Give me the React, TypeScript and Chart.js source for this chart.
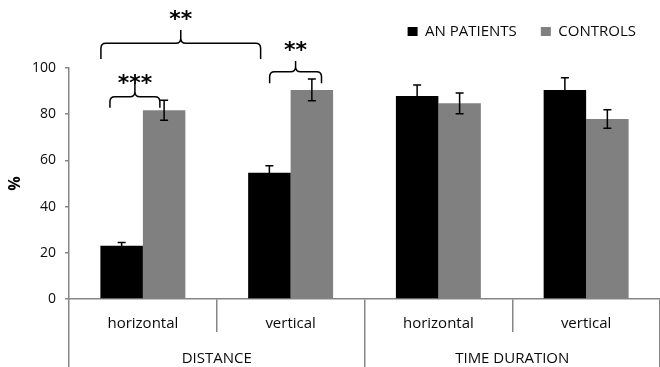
import React, { useEffect, useRef } from "react";
import { Chart, registerables } from "chart.js";

Chart.register(...registerables);

const conditions = ["horizontal", "vertical", "horizontal", "vertical"];
const groups = ["DISTANCE", "TIME DURATION"];
const seriesNames = ["AN PATIENTS", "CONTROLS"];
const patientValues = [23, 54.7, 87.9, 90.5];
const patientErrors = [1.5, 3, 4.7, 5.3];
const controlValues = [81.7, 90.5, 84.7, 77.9];
const controlErrors = [4.3, 4.7, 4.5, 4];
const yTicks = [0, 20, 40, 60, 80, 100];

// significance brackets: category-unit span, value of bar line, ends, spike, label value
const bracketFrom = [-0.284, -0.223, 0.858];
const bracketTo = [0.797, 0.115, 1.209];
const bracketLine = [110.7, 87.6, 98.4];
const bracketEnds = [103.9, 82.8, 93.4];
const bracketSpike = [116.5, 93.4, 103.0];
const bracketLabelAt = [122.9, 95.2, 109.2];
const bracketLabels = ["**", "***", "**"];

const FONT = "'Open Sans', sans-serif";
const AXIS_GRAY = "#858585";
const TEXT = "#0a0a0a";

export default function App() {
  const ref = useRef<HTMLCanvasElement | null>(null);

  useEffect(() => {
    document.body.style.margin = "0";
    const canvas = ref.current;
    if (!canvas) return;

    const errorBars = {
      id: "errorBars",
      afterDatasetsDraw(chart: any) {
        const ctx = chart.ctx;
        const y = chart.scales.y;
        const errs = [patientErrors, controlErrors];
        const vals = [patientValues, controlValues];
        ctx.save();
        ctx.strokeStyle = "#000";
        ctx.lineWidth = 1.5;
        chart.data.datasets.forEach((_d: any, i: number) => {
          const meta = chart.getDatasetMeta(i);
          meta.data.forEach((el: any, j: number) => {
            const top = y.getPixelForValue(vals[i][j] + errs[i][j]);
            const bot = y.getPixelForValue(vals[i][j] - errs[i][j]);
            const x = el.x;
            ctx.beginPath();
            ctx.moveTo(x, top);
            ctx.lineTo(x, bot);
            ctx.moveTo(x - 4, top);
            ctx.lineTo(x + 4, top);
            ctx.moveTo(x - 4, bot);
            ctx.lineTo(x + 4, bot);
            ctx.stroke();
          });
        });
        ctx.restore();
      },
    };

    const brackets = {
      id: "brackets",
      afterDraw(chart: any) {
        const ctx = chart.ctx;
        const xs = chart.scales.x;
        const ys = chart.scales.y;
        const x0 = xs.getPixelForValue(0);
        const step = xs.getPixelForValue(1) - x0;
        const px = (c: number) => x0 + c * step;
        ctx.save();
        ctx.strokeStyle = "#000";
        ctx.lineWidth = 1.5;
        for (let i = 0; i < bracketLabels.length; i++) {
          const x1 = px(bracketFrom[i]);
          const x2 = px(bracketTo[i]);
          const xm = (x1 + x2) / 2;
          const yl = ys.getPixelForValue(bracketLine[i]);
          const ye = ys.getPixelForValue(bracketEnds[i]);
          const ysp = ys.getPixelForValue(bracketSpike[i]);
          const r = 5;
          ctx.beginPath();
          ctx.moveTo(x1, ye);
          ctx.lineTo(x1, yl + r);
          ctx.quadraticCurveTo(x1, yl, x1 + r, yl);
          ctx.lineTo(xm - r, yl);
          ctx.quadraticCurveTo(xm, yl, xm, yl - r);
          ctx.lineTo(xm, ysp);
          ctx.moveTo(xm, yl - r);
          ctx.quadraticCurveTo(xm, yl, xm + r, yl);
          ctx.lineTo(x2 - r, yl);
          ctx.quadraticCurveTo(x2, yl, x2, yl + r);
          ctx.lineTo(x2, ye);
          ctx.stroke();
          ctx.fillStyle = "#000";
          ctx.font = "bold 22px 'DejaVu Sans'";
          ctx.textAlign = "center";
          ctx.textBaseline = "middle";
          const ty = ys.getPixelForValue(bracketLabelAt[i]);
          ctx.fillText(bracketLabels[i], xm, ty + 5);
        }
        ctx.restore();
      },
    };

    const legendHeight = {
      id: "legendHeight",
      beforeInit(chart: any) {
        const orig = chart.legend.fit;
        chart.legend.fit = function () {
          orig.call(this);
          this.height = 68;
        };
      },
    };

    const chart = new Chart(canvas, {
      type: "bar",
      data: {
        labels: conditions,
        datasets: [
          {
            label: seriesNames[0],
            data: patientValues,
            backgroundColor: "#000000",
            borderWidth: 0,
            categoryPercentage: 0.575,
            barPercentage: 1,
          },
          {
            label: seriesNames[1],
            data: controlValues,
            backgroundColor: "#808080",
            borderWidth: 0,
            categoryPercentage: 0.575,
            barPercentage: 1,
          },
        ],
      },
      options: {
        animation: false,
        responsive: true,
        maintainAspectRatio: false,
        layout: { padding: { left: 0, right: 0, top: 0, bottom: 0 } },
        plugins: {
          tooltip: { enabled: false },
          legend: {
            position: "top",
            align: "end",
            labels: {
              boxWidth: 10,
              boxHeight: 9,
              padding: 24,
              color: TEXT,
              font: { family: FONT, size: 15 },
            },
          },
        },
        scales: {
          x: {
            type: "category",
            position: "bottom",
            weight: 0,
            offset: true,
            grid: {
              offset: true,
              drawOnChartArea: false,
              drawTicks: true,
              tickLength: 33,
              color: AXIS_GRAY,
              lineWidth: 1.5,
            },
            border: { display: true, color: AXIS_GRAY, width: 1.5 },
            ticks: {
              padding: -17,
              color: TEXT,
              font: { family: FONT, size: 15 },
              maxRotation: 0,
            },
            afterFit(s: any) {
              s.height = 33;
            },
          },
          x2: {
            type: "category",
            position: "bottom",
            weight: 1,
            labels: groups,
            offset: true,
            grid: {
              offset: true,
              drawOnChartArea: false,
              drawTicks: true,
              tickLength: 36,
              color: AXIS_GRAY,
              lineWidth: 1.5,
            },
            border: { display: false },
            ticks: {
              padding: -18,
              color: TEXT,
              font: { family: FONT, size: 15 },
              maxRotation: 0,
            },
            afterFit(s: any) {
              s.height = 35;
            },
          },
          y: {
            min: 0,
            max: 100,
            afterBuildTicks(s: any) {
              s.ticks = yTicks.map((v) => ({ value: v }));
            },
            grid: {
              drawOnChartArea: false,
              drawTicks: true,
              tickLength: 4,
              color: AXIS_GRAY,
              lineWidth: 1.5,
            },
            border: { display: true, color: AXIS_GRAY, width: 1.5 },
            ticks: {
              padding: 9,
              color: TEXT,
              font: { family: FONT, size: 14 },
            },
            title: {
              display: true,
              text: "%",
              color: "#000",
              font: { family: FONT, size: 16, weight: "bold" },
              padding: { top: 6, bottom: 0 },
            },
            afterFit(s: any) {
              s.width = 69;
            },
          },
        },
      },
      plugins: [legendHeight, errorBars, brackets],
    });

    return () => chart.destroy();
  }, []);

  return (
    <div style={{ width: 660, height: 367, position: "relative" }}>
      <canvas ref={ref} />
    </div>
  );
}
